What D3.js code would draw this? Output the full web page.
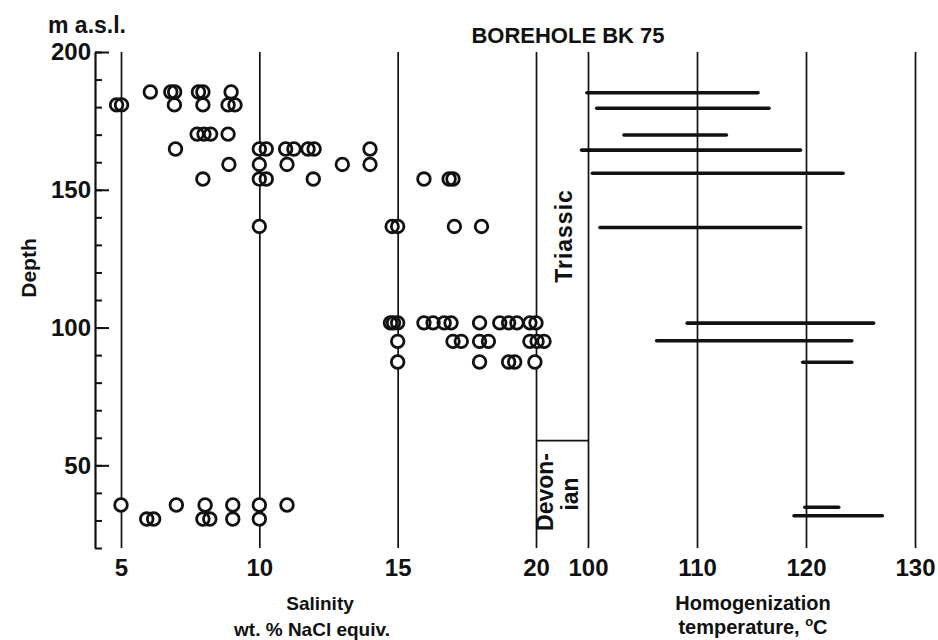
<!DOCTYPE html>
<html>
<head>
<meta charset="utf-8">
<script src="https://cdn.jsdelivr.net/npm/d3@7"></script>
<style>
  body { margin: 0; background: #fff; }
  svg { display: block; }
  text { font-family: "Liberation Sans", Arial, sans-serif; font-weight: bold; fill: #111; }
</style>
</head>
<body>
<div id="chart"></div>
<script>
// depth rows (m a.s.l.) and the salinity values found at each row
const salDepths = [185.5, 180.8, 170.2, 164.8, 159.2, 153.9, 136.7, 101.7, 95.0, 87.5, 35.6, 30.5]
const salValues = [
  [6.06, 6.8, 6.94, 7.8, 7.96, 8.98],
  [4.84, 5.02, 6.93, 7.96, 8.87, 9.12],
  [7.75, 8.0, 8.24, 8.87],
  [6.97, 10.0, 10.25, 10.95, 11.25, 11.76, 11.98, 14.0],
  [8.9, 10.0, 11.0, 13.0, 14.0],
  [7.96, 10.0, 10.25, 11.95, 15.95, 16.86, 17.0],
  [10.0, 14.8, 15.0, 17.05, 18.03],
  [14.74, 14.85, 15.0, 15.95, 16.28, 16.68, 16.93, 17.96, 18.69, 19.01, 19.31, 19.78, 20.0],
  [15.0, 17.0, 17.3, 17.96, 18.28, 19.78, 20.04, 20.29],
  [15.0, 17.96, 19.01, 19.23, 19.96],
  [5.0, 7.0, 8.04, 9.04, 10.0, 11.0],
  [5.93, 6.18, 7.96, 8.21, 9.04, 10.0]
]

// homogenization temperature ranges
const tempDepths = [185.2, 179.6, 169.9, 164.4, 156.0, 136.3, 101.6, 95.2, 87.4, 34.8, 31.7]
const tempMin = [99.9, 100.8, 103.3, 99.4, 100.4, 101.1, 109.1, 106.3, 119.7, 119.9, 118.9]
const tempMax = [115.6, 116.6, 112.7, 119.5, 123.4, 119.5, 126.2, 124.2, 124.2, 123.0, 127.0]

const depthTicks = [200, 150, 100, 50]
const depthMinor = [200, 190, 180, 170, 160, 150, 140, 130, 120, 110, 100, 90, 80, 70, 60, 50, 40, 30, 20]
const salTicks = [5, 10, 15, 20]
const tempTicks = [100, 110, 120, 130]
const strataBoundary = 59

const width = 938
const height = 640
const plotTop = 52
const plotBottom = 548

const svg = d3.select("#chart").append("svg")
  .attr("width", width).attr("height", height)

const y = d3.scaleLinear().domain([20, 200]).range([plotBottom, plotTop])
const xSal = d3.scaleLinear().domain([5, 20]).range([121, 536])
const xTemp = d3.scaleLinear().domain([100, 130]).range([588, 915])

// vertical grid lines + tick labels (salinity, temperature)
const salAxis = svg.append("g")
  .attr("transform", `translate(0, ${plotBottom})`)
  .call(d3.axisBottom(xSal).tickValues(salTicks).tickSize(-(plotBottom - plotTop)).tickPadding(11).tickFormat(d3.format("d")))
const tempAxis = svg.append("g")
  .attr("transform", `translate(0, ${plotBottom})`)
  .call(d3.axisBottom(xTemp).tickValues(tempTicks).tickSize(-(plotBottom - plotTop)).tickPadding(11).tickFormat(d3.format("d")))
;[salAxis, tempAxis].forEach((g) => {
  g.select(".domain").remove()
  g.selectAll(".tick line").attr("stroke-width", 1.7)
  g.selectAll(".tick text").attr("font-size", 24)
  g.attr("font-family", null)
})

// depth axis
const yAxis = svg.append("g").attr("transform", "translate(95, 0)")
yAxis.call(d3.axisLeft(y).tickValues(depthMinor).tickSize(-7).tickSizeOuter(0).tickFormat(""))
yAxis.selectAll(".tick line").attr("stroke-width", 2)
yAxis.select(".domain").attr("stroke-width", 2.2)
const yMajor = svg.append("g").attr("transform", "translate(95, 0)")
  .call(d3.axisLeft(y).tickValues(depthTicks).tickSize(-14).tickSizeOuter(0).tickPadding(4))
yMajor.select(".domain").remove()
yMajor.selectAll(".tick line").attr("stroke-width", 2)
yMajor.selectAll(".tick text").attr("font-size", 24)
yMajor.attr("font-family", null)
svg.selectAll(".tick line, .domain").attr("stroke", "#111")

// stratigraphy boundary
svg.append("line")
  .attr("x1", xSal(20)).attr("x2", xTemp(100))
  .attr("y1", y(strataBoundary)).attr("y2", y(strataBoundary))
  .attr("stroke", "#111").attr("stroke-width", 1.7)

// salinity circles: white fill first, then the outlines so overlaps stay visible
const points = salDepths.flatMap((d, i) => salValues[i].map((s) => ({ depth: d, sal: s })))
svg.append("g").selectAll("circle").data(points).join("circle")
  .attr("cx", (d) => xSal(d.sal)).attr("cy", (d) => y(d.depth))
  .attr("r", 6.3).attr("fill", "#fff")
svg.append("g").selectAll("circle").data(points).join("circle")
  .attr("cx", (d) => xSal(d.sal)).attr("cy", (d) => y(d.depth))
  .attr("r", 6.3).attr("fill", "none").attr("stroke", "#111").attr("stroke-width", 2.8)

// temperature ranges
svg.append("g").selectAll("line").data(tempDepths).join("line")
  .attr("x1", (d, i) => xTemp(tempMin[i])).attr("x2", (d, i) => xTemp(tempMax[i]))
  .attr("y1", (d) => y(d)).attr("y2", (d) => y(d))
  .attr("stroke", "#111").attr("stroke-width", 3.6).attr("stroke-linecap", "round")

// texts
svg.append("text").attr("x", 48).attr("y", 33).attr("font-size", 23).text("m a.s.l.")
svg.append("text").attr("x", 568).attr("y", 43).attr("font-size", 22).attr("text-anchor", "middle").text("BOREHOLE BK 75")
svg.append("text").attr("transform", "translate(36, 268) rotate(-90)").attr("font-size", 21)
  .attr("text-anchor", "middle").text("Depth")
svg.append("text").attr("transform", "translate(572, 236) rotate(-90)").attr("font-size", 23)
  .attr("text-anchor", "middle").attr("letter-spacing", 1).text("Triassic")
svg.append("text").attr("transform", "translate(553, 492) rotate(-90)").attr("font-size", 23)
  .attr("text-anchor", "middle").text("Devon-")
svg.append("text").attr("transform", "translate(578, 494) rotate(-90)").attr("font-size", 23)
  .attr("text-anchor", "middle").text("ian")

svg.append("text").attr("x", 320).attr("y", 610).attr("font-size", 19).attr("text-anchor", "middle").text("Salinity")
svg.append("text").attr("x", 312).attr("y", 636).attr("font-size", 19).attr("text-anchor", "middle").text("wt. % NaCl equiv.")
svg.append("text").attr("x", 753).attr("y", 610).attr("font-size", 20).attr("text-anchor", "middle").text("Homogenization")
const tt = svg.append("text").attr("x", 753).attr("y", 634).attr("font-size", 20).attr("text-anchor", "middle")
tt.append("tspan").text("temperature, ")
tt.append("tspan").attr("font-size", 13).attr("dy", -8).text("o")
tt.append("tspan").attr("dy", 8).text("C")
</script>
</body>
</html>
